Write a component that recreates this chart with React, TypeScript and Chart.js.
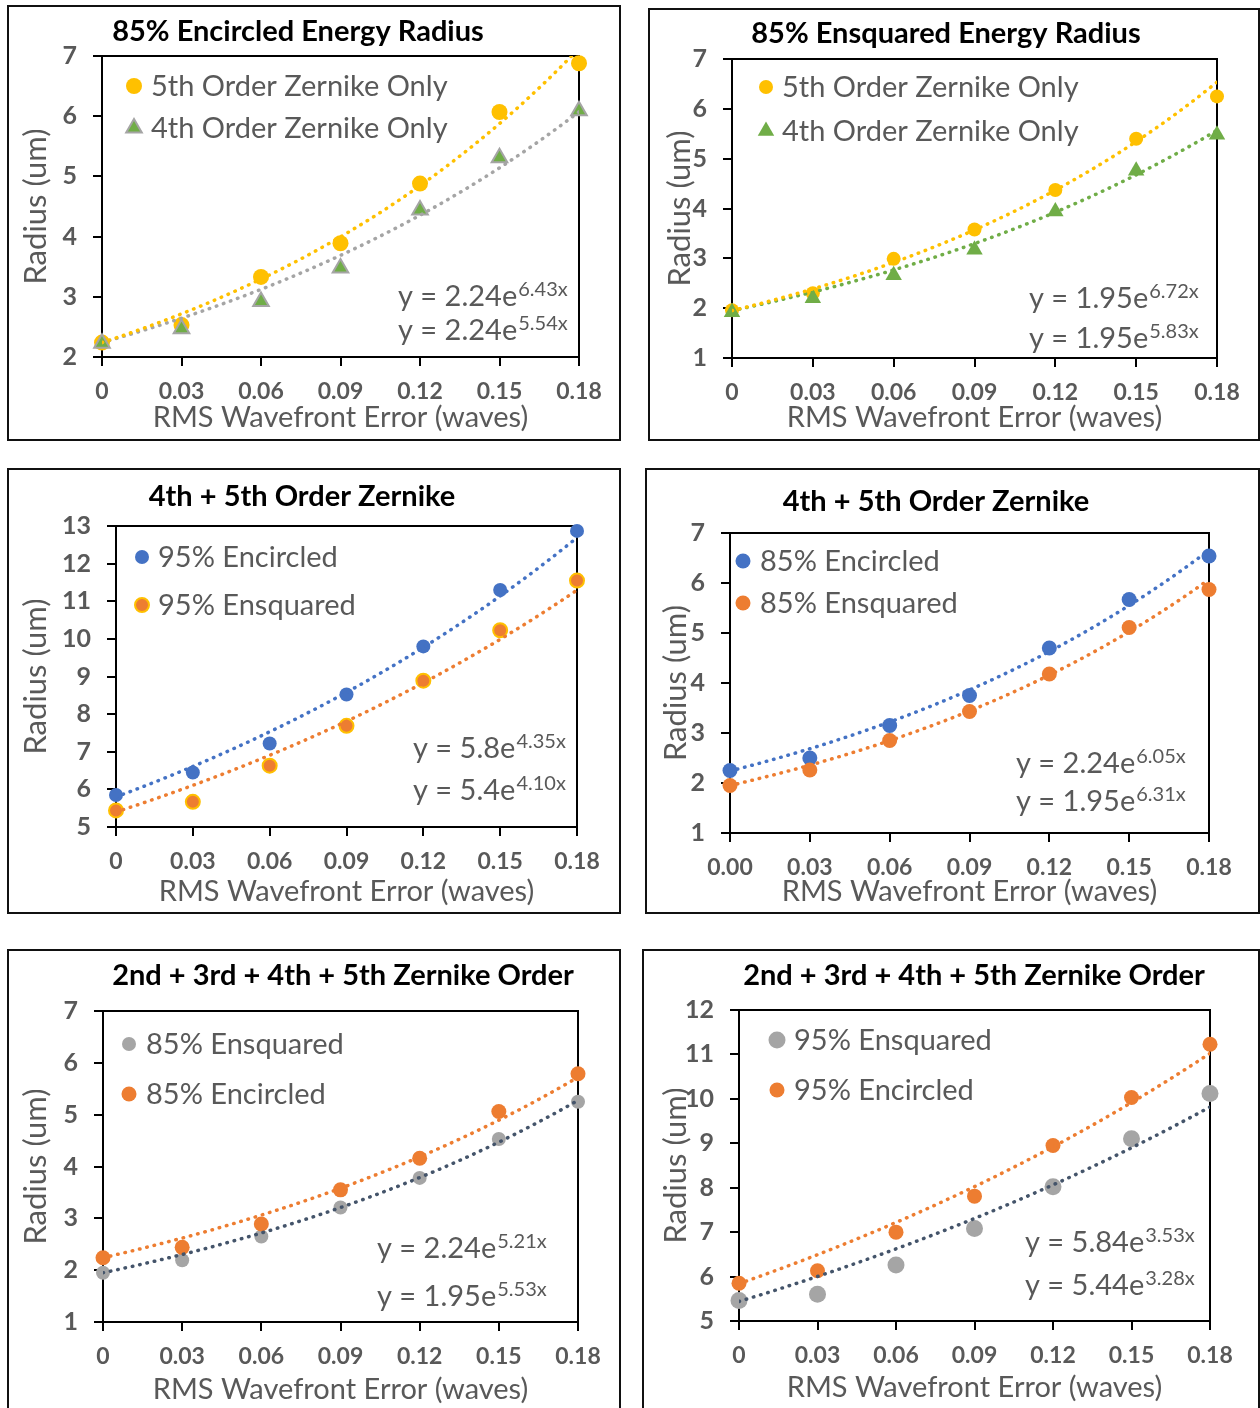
import React, { useEffect, useRef } from 'react';
import { Chart, registerables } from 'chart.js';

Chart.register(...registerables);

// ---------- shared data ----------
const rmsError = [0, 0.03, 0.06, 0.09, 0.12, 0.15, 0.18];
const xTickLabels = ['0', '0.03', '0.06', '0.09', '0.12', '0.15', '0.18'];
const xTickLabels2dp = ['0.00', '0.03', '0.06', '0.09', '0.12', '0.15', '0.18'];
const xAxisTitle = 'RMS Wavefront Error (waves)';
const yAxisTitle = 'Radius (um)';

// ---------- panel 1: 85% Encircled Energy Radius ----------
const p1Title = '85% Encircled Energy Radius';
const p1Labels = ['5th Order Zernike Only', '4th Order Zernike Only'];
const p1Fifth = [2.24, 2.53, 3.33, 3.89, 4.88, 6.07, 6.88];
const p1Fourth = [2.23, 2.47, 2.92, 3.48, 4.44, 5.31, 6.09];
const p1Fits = [[2.24, 6.43], [2.24, 5.54]];
const p1Eqs = [['y = 2.24e', '6.43x'], ['y = 2.24e', '5.54x']];
const p1YTicks = [2, 3, 4, 5, 6, 7];

// ---------- panel 2: 85% Ensquared Energy Radius ----------
const p2Title = '85% Ensquared Energy Radius';
const p2Labels = ['5th Order Zernike Only', '4th Order Zernike Only'];
const p2Fifth = [1.96, 2.30, 2.99, 3.58, 4.37, 5.40, 6.25];
const p2Fourth = [1.92, 2.20, 2.66, 3.17, 3.94, 4.76, 5.48];
const p2Fits = [[1.95, 6.72], [1.95, 5.83]];
const p2Eqs = [['y = 1.95e', '6.72x'], ['y = 1.95e', '5.83x']];
const p2YTicks = [1, 2, 3, 4, 5, 6, 7];

// ---------- panel 3: 4th + 5th Order Zernike (95%) ----------
const p3Title = '4th + 5th Order Zernike';
const p3Labels = ['95% Encircled', '95% Ensquared'];
const p3Encircled = [5.85, 6.45, 7.22, 8.52, 9.80, 11.30, 12.87];
const p3Ensquared = [5.44, 5.67, 6.63, 7.69, 8.89, 10.23, 11.55];
const p3Fits = [[5.8, 4.35], [5.4, 4.10]];
const p3Eqs = [['y = 5.8e', '4.35x'], ['y = 5.4e', '4.10x']];
const p3YTicks = [5, 6, 7, 8, 9, 10, 11, 12, 13];

// ---------- panel 4: 4th + 5th Order Zernike (85%) ----------
const p4Title = '4th + 5th Order Zernike';
const p4Labels = ['85% Encircled', '85% Ensquared'];
const p4Encircled = [2.25, 2.50, 3.15, 3.75, 4.70, 5.67, 6.54];
const p4Ensquared = [1.95, 2.26, 2.85, 3.43, 4.18, 5.11, 5.87];
const p4Fits = [[2.24, 6.05], [1.95, 6.31]];
const p4Eqs = [['y = 2.24e', '6.05x'], ['y = 1.95e', '6.31x']];
const p4YTicks = [1, 2, 3, 4, 5, 6, 7];

// ---------- panel 5: 2nd+3rd+4th+5th (85%) ----------
const p5Title = '2nd + 3rd + 4th + 5th Zernike Order';
const p5Labels = ['85% Ensquared', '85% Encircled'];
const p5Ensquared = [1.95, 2.19, 2.65, 3.21, 3.78, 4.53, 5.25];
const p5Encircled = [2.24, 2.44, 2.89, 3.55, 4.16, 5.06, 5.79];
const p5Fits = [[1.95, 5.53], [2.24, 5.21]];
const p5Eqs = [['y = 2.24e', '5.21x'], ['y = 1.95e', '5.53x']];
const p5YTicks = [1, 2, 3, 4, 5, 6, 7];

// ---------- panel 6: 2nd+3rd+4th+5th (95%) ----------
const p6Title = '2nd + 3rd + 4th + 5th Zernike Order';
const p6Labels = ['95% Ensquared', '95% Encircled'];
const p6Ensquared = [5.46, 5.60, 6.26, 7.08, 8.02, 9.10, 10.12];
const p6Encircled = [5.85, 6.13, 7.00, 7.81, 8.95, 10.03, 11.23];
const p6Fits = [[5.44, 3.28], [5.84, 3.53]];
const p6Eqs = [['y = 5.84e', '3.53x'], ['y = 5.44e', '3.28x']];
const p6YTicks = [5, 6, 7, 8, 9, 10, 11, 12];

// ---------- styles ----------
const FONT = 'Lato, "Open Sans", "Noto Sans", sans-serif';
const TXT = '#595959';
const GOLD = '#FFC000';
const GREEN = '#70AD47';
const GRAY = '#A5A5A5';
const BLUE = '#4472C4';
const ORANGE = '#ED7D31';
const SLATE = '#44546A';

type Series = {
  label: string;
  values: number[];
  style: 'circle' | 'triangle';
  fill: string;
  stroke: string;
  strokeW: number;
  r: number;
  fit: number[];
  trendColor: string;
};

type Panel = {
  title: string;
  box: number[];
  plot: number[];
  openBottom?: boolean;
  yTicks: number[];
  xLabels: string[];
  series: Series[];
  titleC: number[];
  legend: { mx: number; tx: number; rows: number[] };
  eqs: string[][];
  eqX: number;
  eqRows: number[];
  yTitlePad: number;
  xTitlePad: number;
};

const panels: Panel[] = [
  {
    title: p1Title, box: [7, 5, 621, 441], plot: [102, 56, 579, 357], yTicks: p1YTicks, xLabels: xTickLabels,
    series: [
      { label: p1Labels[0], values: p1Fifth, style: 'circle', fill: GOLD, stroke: GOLD, strokeW: 0, r: 8, fit: p1Fits[0], trendColor: GOLD },
      { label: p1Labels[1], values: p1Fourth, style: 'triangle', fill: GREEN, stroke: GRAY, strokeW: 2, r: 9, fit: p1Fits[1], trendColor: GRAY },
    ],
    titleC: [298, 32], legend: { mx: 134, tx: 151, rows: [86, 128] },
    eqs: p1Eqs, eqX: 398, eqRows: [296, 330], yTitlePad: 10, xTitlePad: 6,
  },
  {
    title: p2Title, box: [648, 8, 1260, 441], plot: [732, 59, 1217, 358], yTicks: p2YTicks, xLabels: xTickLabels,
    series: [
      { label: p2Labels[0], values: p2Fifth, style: 'circle', fill: GOLD, stroke: GOLD, strokeW: 0, r: 7, fit: p2Fits[0], trendColor: GOLD },
      { label: p2Labels[1], values: p2Fourth, style: 'triangle', fill: GREEN, stroke: GREEN, strokeW: 0, r: 9.5, fit: p2Fits[1], trendColor: GREEN },
    ],
    titleC: [946, 34], legend: { mx: 766, tx: 782, rows: [87, 131] },
    eqs: p2Eqs, eqX: 1029, eqRows: [298, 338], yTitlePad: 13, xTitlePad: 6,
  },
  {
    title: p3Title, box: [7, 468, 621, 914], plot: [116, 526, 577, 827], yTicks: p3YTicks, xLabels: xTickLabels,
    series: [
      { label: p3Labels[0], values: p3Encircled, style: 'circle', fill: BLUE, stroke: BLUE, strokeW: 0, r: 7, fit: p3Fits[0], trendColor: BLUE },
      { label: p3Labels[1], values: p3Ensquared, style: 'circle', fill: ORANGE, stroke: GOLD, strokeW: 2, r: 7, fit: p3Fits[1], trendColor: ORANGE },
    ],
    titleC: [302, 497], legend: { mx: 142, tx: 158, rows: [557, 605] },
    eqs: p3Eqs, eqX: 413, eqRows: [748, 790], yTitlePad: 10, xTitlePad: 5,
  },
  {
    title: p4Title, box: [645, 468, 1260, 914], plot: [730, 533, 1209, 833], yTicks: p4YTicks, xLabels: xTickLabels2dp,
    series: [
      { label: p4Labels[0], values: p4Encircled, style: 'circle', fill: BLUE, stroke: BLUE, strokeW: 0, r: 7.5, fit: p4Fits[0], trendColor: BLUE },
      { label: p4Labels[1], values: p4Ensquared, style: 'circle', fill: ORANGE, stroke: ORANGE, strokeW: 0, r: 7.5, fit: p4Fits[1], trendColor: ORANGE },
    ],
    titleC: [936, 502], legend: { mx: 743, tx: 760, rows: [561, 603] },
    eqs: p4Eqs, eqX: 1016, eqRows: [763, 801], yTitlePad: 12, xTitlePad: 5,
  },
  {
    title: p5Title, box: [7, 949, 621, 1408], plot: [103, 1011, 578, 1322], openBottom: true, yTicks: p5YTicks, xLabels: xTickLabels,
    series: [
      { label: p5Labels[0], values: p5Ensquared, style: 'circle', fill: GRAY, stroke: GRAY, strokeW: 0, r: 7, fit: p5Fits[0], trendColor: SLATE },
      { label: p5Labels[1], values: p5Encircled, style: 'circle', fill: ORANGE, stroke: ORANGE, strokeW: 0, r: 7.5, fit: p5Fits[1], trendColor: ORANGE },
    ],
    titleC: [343, 976], legend: { mx: 129, tx: 146, rows: [1044, 1094] },
    eqs: p5Eqs, eqX: 377, eqRows: [1248, 1296], yTitlePad: 10, xTitlePad: 1,
  },
  {
    title: p6Title, box: [642, 949, 1260, 1408], plot: [739, 1010, 1210, 1321], openBottom: true, yTicks: p6YTicks, xLabels: xTickLabels,
    series: [
      { label: p6Labels[0], values: p6Ensquared, style: 'circle', fill: GRAY, stroke: GRAY, strokeW: 0, r: 8.5, fit: p6Fits[0], trendColor: SLATE },
      { label: p6Labels[1], values: p6Encircled, style: 'circle', fill: ORANGE, stroke: ORANGE, strokeW: 0, r: 7.5, fit: p6Fits[1], trendColor: ORANGE },
    ],
    titleC: [974, 976], legend: { mx: 777, tx: 794, rows: [1040, 1090] },
    eqs: p6Eqs, eqX: 1025, eqRows: [1242, 1285], yTitlePad: 15, xTitlePad: 3,
  },
];

// exponential trendline curve y = a*e^(b*x), as drawn by the spreadsheet
function trendCurve(fit: number[]) {
  const n = 60;
  const xMax = rmsError[rmsError.length - 1];
  const pts: { x: number; y: number }[] = [];
  for (let i = 0; i <= n; i++) {
    const x = (xMax * i) / n;
    pts.push({ x, y: fit[0] * Math.exp(fit[1] * x) });
  }
  return pts;
}

function drawMarker(ctx: CanvasRenderingContext2D, s: Series, x: number, y: number) {
  ctx.save();
  ctx.beginPath();
  if (s.style === 'circle') {
    ctx.arc(x, y, s.r, 0, Math.PI * 2);
  } else {
    let rad = 0;
    ctx.moveTo(x + Math.sin(rad) * s.r, y - Math.cos(rad) * s.r);
    rad += (2 * Math.PI) / 3;
    ctx.lineTo(x + Math.sin(rad) * s.r, y - Math.cos(rad) * s.r);
    rad += (2 * Math.PI) / 3;
    ctx.lineTo(x + Math.sin(rad) * s.r, y - Math.cos(rad) * s.r);
    ctx.closePath();
  }
  ctx.fillStyle = s.fill;
  ctx.fill();
  if (s.strokeW > 0) {
    ctx.strokeStyle = s.stroke;
    ctx.lineWidth = s.strokeW;
    ctx.stroke();
  }
  ctx.restore();
}

function makeDeco(p: Panel) {
  const ox = p.box[0];
  const oy = p.box[1];
  return {
    id: 'deco',
    beforeDatasetsDraw(chart: any) {
      const { ctx, chartArea: a } = chart;
      ctx.save();
      ctx.strokeStyle = '#000';
      ctx.lineWidth = 2;
      ctx.strokeRect(a.left, a.top, a.right - a.left, a.bottom - a.top);
      ctx.restore();
    },
    afterDraw(chart: any) {
      const ctx: CanvasRenderingContext2D = chart.ctx;
      const w = chart.width;
      const h = chart.height;
      ctx.save();
      // panel frame
      ctx.strokeStyle = '#111';
      ctx.lineWidth = 2;
      ctx.beginPath();
      if (p.openBottom) {
        ctx.moveTo(1, h + 5);
        ctx.lineTo(1, 1);
        ctx.lineTo(w - 1, 1);
        ctx.lineTo(w - 1, h + 5);
      } else {
        ctx.rect(1, 1, w - 2, h - 2);
      }
      ctx.stroke();
      // title
      ctx.fillStyle = '#000';
      ctx.font = `bold 29px ${FONT}`;
      ctx.textAlign = 'center';
      ctx.textBaseline = 'middle';
      ctx.fillText(p.title, p.titleC[0] - ox, p.titleC[1] - oy);
      // legend
      ctx.font = `29px ${FONT}`;
      ctx.textAlign = 'left';
      p.series.forEach((s, i) => {
        const yy = p.legend.rows[i] - oy;
        drawMarker(ctx, s, p.legend.mx - ox, yy);
        ctx.fillStyle = TXT;
        ctx.fillText(s.label, p.legend.tx - ox, yy + 1);
      });
      // equations
      ctx.textBaseline = 'alphabetic';
      p.eqs.forEach((eq, i) => {
        const base = p.eqRows[i] - oy + 10;
        const x0 = p.eqX - ox;
        ctx.font = `29px ${FONT}`;
        ctx.fillStyle = TXT;
        ctx.fillText(eq[0], x0, base);
        const wMain = ctx.measureText(eq[0]).width;
        ctx.font = `20px ${FONT}`;
        ctx.fillText(eq[1], x0 + wMain + 1, base - 10);
      });
      ctx.restore();
    },
  };
}

function buildConfig(p: Panel): any {
  const [A, B] = p.series;
  const pointDs = (s: Series) => ({
    label: s.label,
    data: rmsError.map((x, i) => ({ x, y: s.values[i] })),
    showLine: false,
    pointStyle: s.style,
    pointRadius: s.r,
    pointHoverRadius: s.r,
    pointBackgroundColor: s.fill,
    pointBorderColor: s.stroke,
    pointBorderWidth: s.strokeW,
    backgroundColor: s.fill,
    borderColor: s.stroke,
    clip: false,
  });
  const trendDs = (s: Series) => ({
    label: s.label + ' trend',
    data: trendCurve(s.fit),
    showLine: true,
    pointRadius: 0,
    pointHoverRadius: 0,
    borderColor: s.trendColor,
    backgroundColor: s.trendColor,
    borderWidth: 3.5,
    borderDash: [0.5, 7],
    borderCapStyle: 'round',
    tension: 0,
    fill: false,
    clip: 0,
  });
  const yMin = p.yTicks[0];
  const yMax = p.yTicks[p.yTicks.length - 1];
  return {
    type: 'scatter',
    data: { datasets: [trendDs(A), trendDs(B), pointDs(B), pointDs(A)] },
    options: {
      animation: false,
      responsive: false,
      devicePixelRatio: 1,
      events: [],
      layout: {
        padding: { left: 0, bottom: 0, top: p.plot[1] - p.box[1], right: p.box[2] - p.plot[2] },
      },
      plugins: { legend: { display: false }, tooltip: { enabled: false }, title: { display: false } },
      scales: {
        x: {
          type: 'linear',
          min: rmsError[0],
          max: rmsError[rmsError.length - 1],
          afterBuildTicks: (sc: any) => {
            sc.ticks = rmsError.map((v) => ({ value: v }));
          },
          afterFit: (sc: any) => {
            sc.height = p.box[3] - p.plot[3];
          },
          ticks: {
            callback: (_v: any, i: number) => p.xLabels[i],
            font: { family: FONT, size: 23, weight: 'bold' },
            color: TXT,
            padding: 12,
            maxRotation: 0,
            autoSkip: false,
          },
          grid: { drawOnChartArea: false, drawTicks: true, tickLength: 9, color: '#000', lineWidth: 2 },
          border: { display: true, color: '#000', width: 2 },
          title: {
            display: true,
            text: xAxisTitle,
            font: { family: FONT, size: 29 },
            color: TXT,
            padding: { top: 0, bottom: p.xTitlePad },
          },
        },
        y: {
          type: 'linear',
          min: yMin,
          max: yMax,
          afterBuildTicks: (sc: any) => {
            sc.ticks = p.yTicks.map((v) => ({ value: v }));
          },
          afterFit: (sc: any) => {
            sc.width = p.plot[0] - p.box[0];
          },
          ticks: {
            callback: (v: any) => String(v),
            font: { family: FONT, size: 25, weight: 'bold' },
            color: TXT,
            padding: 16,
            autoSkip: false,
          },
          grid: { drawOnChartArea: false, drawTicks: true, tickLength: 9, color: '#000', lineWidth: 2 },
          border: { display: true, color: '#000', width: 2 },
          title: {
            display: true,
            text: yAxisTitle,
            font: { family: FONT, size: 31 },
            color: TXT,
            padding: { top: p.yTitlePad, bottom: 0 },
          },
        },
      },
    },
    plugins: [makeDeco(p)],
  };
}

function PanelChart({ p }: { p: Panel }) {
  const ref = useRef<HTMLCanvasElement>(null);
  useEffect(() => {
    const chart = new Chart(ref.current as HTMLCanvasElement, buildConfig(p));
    let alive = true;
    const fonts: any = (document as any).fonts;
    if (fonts && fonts.load) {
      Promise.all([fonts.load(`29px Lato`), fonts.load(`bold 29px Lato`)])
        .then(() => {
          if (alive) chart.update();
        })
        .catch(() => {});
    }
    return () => {
      alive = false;
      chart.destroy();
    };
  }, [p]);
  const w = p.box[2] - p.box[0];
  const h = p.box[3] - p.box[1];
  return (
    <canvas
      ref={ref}
      width={w}
      height={h}
      style={{ position: 'absolute', left: p.box[0], top: p.box[1], width: w, height: h }}
    />
  );
}

export default function App() {
  return (
    <div style={{ position: 'absolute', left: 0, top: 0, width: 1260, height: 1408, background: '#fff', overflow: 'hidden' }}>
      {panels.map((p, i) => (
        <PanelChart key={i} p={p} />
      ))}
    </div>
  );
}
